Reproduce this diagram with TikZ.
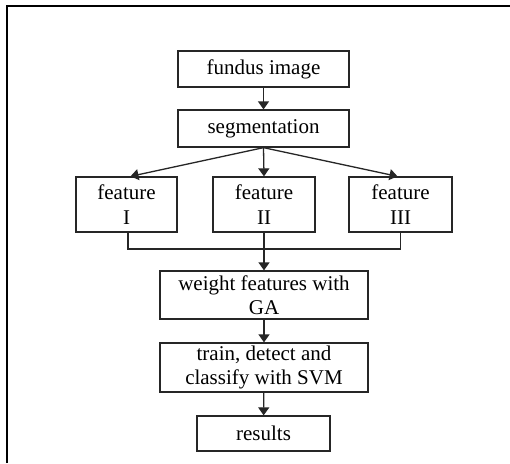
\documentclass[tikz,border=0pt]{standalone}
\usepackage{fontspec}
\setmainfont{Liberation Serif}
\usetikzlibrary{arrows.meta}
\begin{document}
\begin{tikzpicture}[x=1pt,y=-1pt,
  box/.style={draw=black!85, line width=1.3pt, inner sep=0pt, align=center,
    font=\fontsize{21}{24.5}\selectfont},
  conn/.style={draw=black!85, line width=1.3pt},
  arr/.style={conn, -{Triangle[length=8pt,width=11pt]}}]
\useasboundingbox (0,0) rectangle (510,463);
\fill[white] (0,0) rectangle (510,463);
\draw[line width=2pt] (7,463) -- (7,6) -- (510,6);
\node[box, minimum width=171pt, minimum height=36pt] (fundus) at (263.5,69) {fundus image};
\node[box, minimum width=171pt, minimum height=37pt] (seg) at (263.5,128.5) {segmentation};
\node[box, minimum width=101pt, minimum height=55pt] (f1) at (126.5,204.5) {feature\\I};
\node[box, minimum width=102pt, minimum height=55pt] (f2) at (264,204.5) {feature\\II};
\node[box, minimum width=103pt, minimum height=55pt] (f3) at (400.5,204.5) {feature\\III};
\node[box, minimum width=208pt, minimum height=48pt] (weight) at (264,295) {weight features with\\GA};
\node[box, minimum width=208pt, minimum height=49pt] (train) at (264,367.5) {train, detect and\\classify with SVM};
\node[box, minimum width=133pt, minimum height=35pt] (results) at (263.5,433.5) {results};
\coordinate (m1) at (128,249);
\coordinate (m3) at (400.5,249);
\draw[arr] (fundus) -- (seg);
\draw[arr] (seg.south) -- ([xshift=4pt]f1.north);
\draw[arr] (seg.south) -- (f2.north);
\draw[arr] (seg.south) -- ([xshift=-3pt]f3.north);
\draw[conn] (f1.south -| m1) -- (m1) -- (m3) -- (f3.south);
\draw[arr] (f2.south) -- (weight.north);
\draw[arr] (weight) -- (train);
\draw[arr] (train) -- (results);
\end{tikzpicture}
\end{document}
